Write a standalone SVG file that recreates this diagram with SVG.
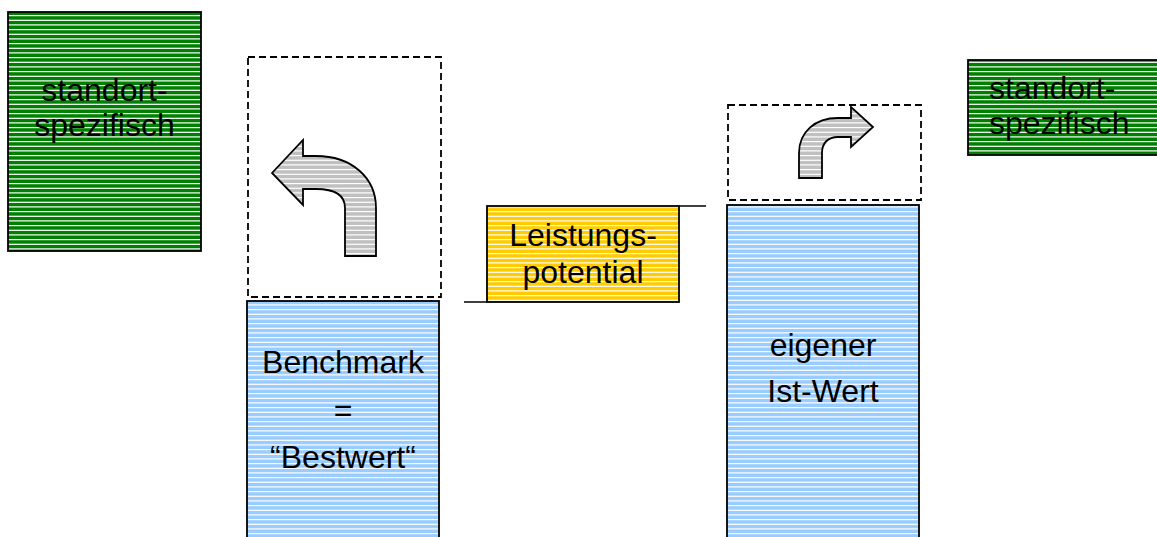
<svg xmlns="http://www.w3.org/2000/svg" width="1157" height="537" viewBox="0 0 1157 537">
<style>
  .txt { font-family: "Liberation Sans", Arial, sans-serif; font-size: 32px; fill: #000; }
  .mid { text-anchor: middle; }
  .box { stroke: #000; stroke-width: 1.8; }
  .dash { fill: none; stroke: #000; stroke-width: 1.8; stroke-dasharray: 7 4; }
  .arrow { stroke: #000; stroke-width: 1.8; stroke-linejoin: miter; }
  .line { fill: none; stroke: #000; stroke-width: 1.5; }
</style>
<defs>
  <pattern id="pGreen" patternUnits="userSpaceOnUse" width="20" height="14">
    <rect width="20" height="14" fill="#008000"/>
    <rect y="1" width="20" height="1.2" fill="#fff"/>
    <rect y="5.7" width="20" height="1.2" fill="#fff"/>
    <rect y="10.3" width="20" height="1.2" fill="#fff"/>
  </pattern>
  <pattern id="pBlue" patternUnits="userSpaceOnUse" width="20" height="14">
    <rect width="20" height="14" fill="#99ccff"/>
    <rect y="1" width="20" height="1.2" fill="#fff"/>
    <rect y="5.7" width="20" height="1.2" fill="#fff"/>
    <rect y="10.3" width="20" height="1.2" fill="#fff"/>
  </pattern>
  <pattern id="pYellow" patternUnits="userSpaceOnUse" width="20" height="14">
    <rect width="20" height="14" fill="#ffcc00"/>
    <rect y="1" width="20" height="1.2" fill="#fff"/>
    <rect y="5.7" width="20" height="1.2" fill="#fff"/>
    <rect y="10.3" width="20" height="1.2" fill="#fff"/>
  </pattern>
  <pattern id="pGray" patternUnits="userSpaceOnUse" width="20" height="14">
    <rect width="20" height="14" fill="#c0c0c0"/>
    <rect y="1" width="20" height="1.2" fill="#fff"/>
    <rect y="5.7" width="20" height="1.2" fill="#fff"/>
    <rect y="10.3" width="20" height="1.2" fill="#fff"/>
  </pattern>
</defs>
<rect width="1157" height="537" fill="#fff"/>

<g id="standort-left">
  <rect class="box" x="8" y="12" width="193" height="239" fill="url(#pGreen)"/>
  <text class="txt mid" x="104.5" y="101">standort-</text>
  <text class="txt mid" x="104.5" y="136">spezifisch</text>
</g>

<g id="benchmark-potential">
  <rect class="dash" x="248" y="57" width="193" height="240"/>
  <path class="arrow" fill="url(#pGray)" d="M272 173 L303 140 L303 156 L316 156 C352 156 376 178 376 208 L376 256 L345 256 L345 208 C345 196 336 189 316 189 L303 189 L303 205 Z"/>
</g>

<g id="benchmark">
  <rect class="box" x="247" y="301" width="192" height="250" fill="url(#pBlue)"/>
  <text class="txt mid" x="343" y="373">Benchmark</text>
  <text class="txt mid" x="343" y="421">=</text>
  <text class="txt mid" x="343" y="468">“Bestwert“</text>
</g>

<g id="leistungspotential">
  <rect class="box" x="487" y="206" width="192" height="96" fill="url(#pYellow)"/>
  <text class="txt mid" x="583" y="246">Leistungs-</text>
  <text class="txt mid" x="583" y="283">potential</text>
</g>

<g id="ist-potential">
  <rect class="dash" x="728" y="105" width="193" height="95"/>
  <path class="arrow" fill="url(#pGray)" d="M799 178 L799 153 C799 132 815 118 838 118 L851 118 L851 107 L873 127 L851 147 L851 137 L838 137 C828 137 822 143 822 153 L822 178 Z"/>
</g>

<g id="ist-wert">
  <rect class="box" x="727" y="205" width="192" height="346" fill="url(#pBlue)"/>
  <text class="txt mid" x="823" y="356">eigener</text>
  <text class="txt mid" x="823" y="402">Ist-Wert</text>
</g>

<g id="standort-right">
  <rect class="box" x="968" y="60" width="200" height="95" fill="url(#pGreen)"/>
  <text class="txt" x="989" y="99">standort-</text>
  <text class="txt" x="989" y="134">spezifisch</text>
</g>

<g id="connectors">
  <line class="line" x1="464" y1="302" x2="487" y2="302"/>
  <line class="line" x1="679" y1="206" x2="706" y2="206"/>
</g>
</svg>
